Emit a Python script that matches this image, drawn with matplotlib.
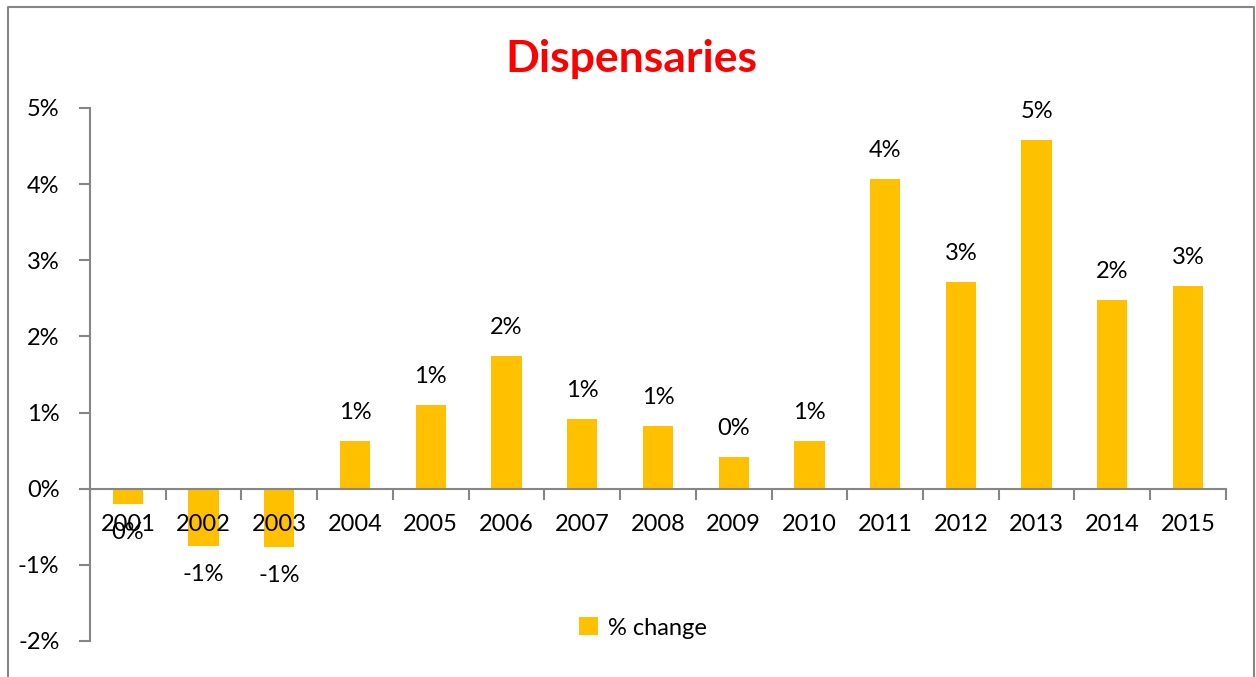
import matplotlib.pyplot as plt
from matplotlib.lines import Line2D
from matplotlib.ticker import FixedLocator, FuncFormatter

years = ["2001", "2002", "2003", "2004", "2005", "2006", "2007", "2008",
         "2009", "2010", "2011", "2012", "2013", "2014", "2015"]
pct_change = [-0.20, -0.75, -0.77, 0.63, 1.10, 1.74, 0.92, 0.82,
              0.41, 0.62, 4.07, 2.72, 4.58, 2.48, 2.66]

plt.rcParams["font.family"] = ["Lato", "DejaVu Sans"]
gray = "#868686"

fig = plt.figure(figsize=(12.56, 6.77), dpi=100)
ax = fig.add_axes([0.0717, 0.0532, 0.9043, 0.7873])
ax.set_axisbelow(False)

x = range(len(years))
bars = ax.bar(x, pct_change, width=0.4, color="#FFC000", label="% change", zorder=2)
ax.bar_label(bars, labels=[f"{round(v)}%" for v in pct_change],
             padding=13, fontsize=17, color="black")

ax.set_xlim(-0.5, len(years) - 0.5)
ax.set_ylim(-2, 5)
ax.set_yticks(range(-2, 6))
ax.yaxis.set_major_formatter(FuncFormatter(lambda v, p: f"{v:.0f}%"))

# x axis sits on the zero line, with ticks between categories
ax.spines["bottom"].set_position(("data", 0))
ax.set_xticks(list(x))
ax.set_xticklabels(years)
ax.xaxis.set_minor_locator(FixedLocator([i - 0.5 for i in range(len(years) + 1)]))
ax.tick_params(axis="x", which="major", length=0, pad=18, labelsize=17)
ax.tick_params(axis="x", which="minor", length=8, width=1.5, color=gray, direction="out")
ax.tick_params(axis="y", length=8, width=1.5, color=gray, labelsize=17, pad=14)

for s in ["top", "right"]:
    ax.spines[s].set_visible(False)
for s in ["left", "bottom"]:
    ax.spines[s].set_color(gray)
    ax.spines[s].set_linewidth(1.5)

fig.text(0.503, 0.913, "Dispensaries", ha="center", va="center",
         fontsize=32, fontweight="bold", color="#FF0000")

ax.legend(loc="center", bbox_to_anchor=(0.512, 0.0724),
          bbox_transform=fig.transFigure, frameon=False, fontsize=17,
          handlelength=0.8, handleheight=0.8, handletextpad=0.4)

# outer chart frame (cut off at the bottom)
left, right, top = 0.0064, 0.9984, 0.9897
fig.add_artist(Line2D([left, left, right, right], [0, top, top, 0],
                      color=gray, lw=1.5, transform=fig.transFigure))

fig.savefig("out.png", dpi=100)
